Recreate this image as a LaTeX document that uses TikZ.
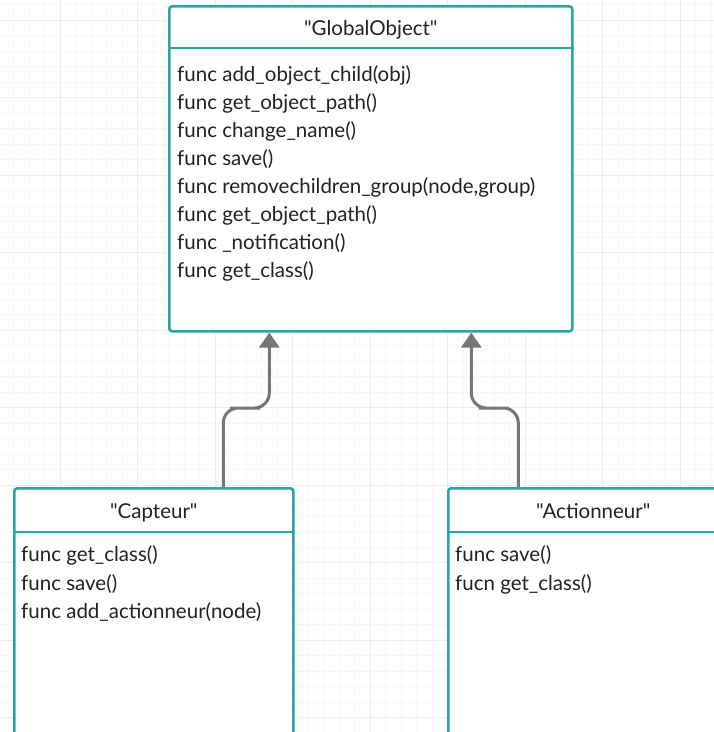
\documentclass[tikz,border=0pt]{standalone}
\usepackage{fontspec}
\setmainfont{Lato}[Ligatures=TeXOff]
\usetikzlibrary{positioning,arrows.meta}

\definecolor{umlteal}{RGB}{38,166,168}
\definecolor{gridmajor}{RGB}{236,236,236}
\definecolor{gridminor}{RGB}{247,247,247}
\definecolor{inheritgray}{RGB}{118,118,118}
\definecolor{textgray}{RGB}{34,34,34}

\newcommand{\qname}[1]{"#1"}

\tikzset{
  classbox/.style={draw=umlteal, line width=2.6pt, rounded corners=3pt,
    fill=white, anchor=north west, inner sep=0pt},
  classline/.style={draw=umlteal, line width=2.6pt},
  classtitle/.style={anchor=base, inner sep=0pt, text=textgray,
    font=\fontsize{20.5}{24}\selectfont},
  method/.style={anchor=base west, inner sep=0pt, text=textgray,
    font=\fontsize{20.5}{24}\selectfont},
  inherit/.style={draw=inheritgray, line width=3pt, rounded corners=15pt,
    -{Triangle[width=20pt,length=15pt]}},
  minorgrid/.style={draw=gridminor, line width=0.8pt},
  majorgrid/.style={draw=gridmajor, line width=1pt}
}

\begin{document}
\begin{tikzpicture}[x=1pt,y=-1pt]
    \useasboundingbox (0,0) rectangle (714,732);
    \clip (0,0) rectangle (714,732);

    % paper grid
    \foreach \k in {0,...,46} {
        \draw[minorgrid] ({13.5+15.5*\k},0) -- ({13.5+15.5*\k},732);
        \draw[minorgrid] (0,{4.5+15.5*\k}) -- (714,{4.5+15.5*\k});
    }
    \foreach \k in {0,...,9} {
        \draw[majorgrid] ({60+77.5*\k},0) -- ({60+77.5*\k},732);
        \draw[majorgrid] (0,{20+77.5*\k}) -- (714,{20+77.5*\k});
    }

    % classes
    \node[classbox, minimum width=403pt, minimum height=325pt] (glob) at (168,5) {};
    \node[classbox, minimum width=279pt, minimum height=300pt] (capteur) at (13,487) {};
    \node[classbox, minimum width=290pt, minimum height=300pt] (actionneur) at (447,487) {};

    \draw[classline] ([yshift=-43pt]glob.north west) -- ([yshift=-43pt]glob.north east);
    \draw[classline] ([yshift=-45pt]capteur.north west) -- ([yshift=-45pt]capteur.north east);
    \draw[classline] ([yshift=-45pt]actionneur.north west) -- ([yshift=-45pt]actionneur.north east);

    \node[classtitle] (globname) at ([yshift=-30pt]glob.north) {\qname{GlobalObject}};
    \node[classtitle] (capname) at ([yshift=-31pt]capteur.north) {\qname{Capteur}};
    \node[classtitle] (actname) at ([yshift=-31pt]actionneur.north) {\qname{Actionneur}};

    % methods
    \foreach \m [count=\i] in {func add\_object\_child(obj), func get\_object\_path(),
        func change\_name(), func save(), {func removechildren\_group(node,group)},
        func get\_object\_path(), func \_notification(), func get\_class()}
        \node[method] (gm\i) at ([xshift=9pt, yshift={-48pt-28pt*\i}]glob.north west) {\m};

    \foreach \m [count=\i] in {func get\_class(), func save(), func add\_actionneur(node)}
        \node[method] (cm\i) at ([xshift=8pt, yshift={-46pt-28.5pt*\i}]capteur.north west) {\m};

    \foreach \m [count=\i] in {func save(), fucn get\_class()}
        \node[method] (am\i) at ([xshift=8pt, yshift={-46pt-28.5pt*\i}]actionneur.north west) {\m};

    % inheritance
    \coordinate (capmid) at (245,408);
    \coordinate (actmid) at (493.5,408);
    \draw[inherit] ([xshift=69.5pt]capteur.north) |- (capmid) -| ([xshift=-101.5pt]glob.south);
    \draw[inherit] ([xshift=-75pt]actionneur.north) |- (actmid) -| ([xshift=100.5pt]glob.south);
\end{tikzpicture}
\end{document}
